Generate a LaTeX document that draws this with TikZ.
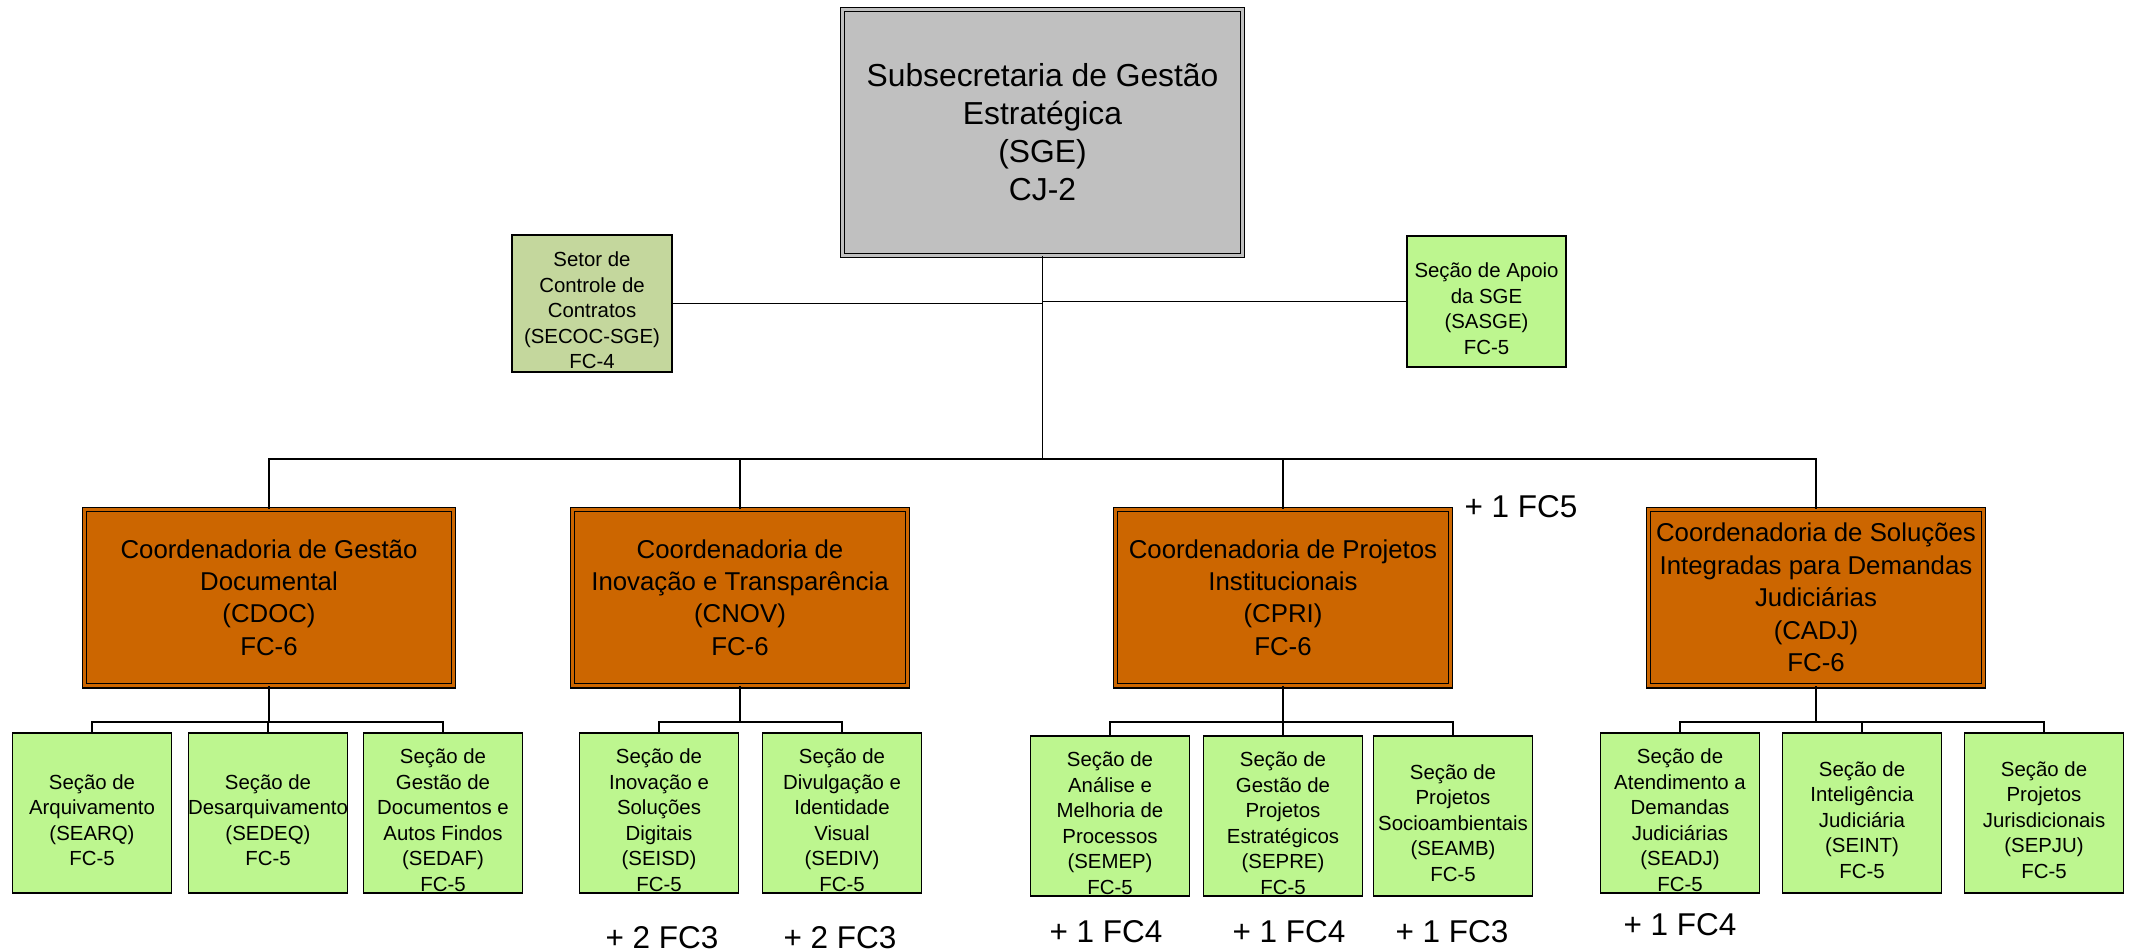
\documentclass[tikz,border=0pt]{standalone}
\usepackage{fontspec}
\setmainfont{Liberation Sans}
\definecolor{sgegray}{RGB}{192,192,192}
\definecolor{coordorange}{RGB}{204,102,0}
\definecolor{secgreen}{RGB}{189,246,143}
\definecolor{secocgreen}{RGB}{196,215,157}
\begin{document}
\begin{tikzpicture}[x=0.5pt,y=-0.5pt,line width=0.9pt,
    topbox/.style={draw,line width=0.6pt,double=sgegray,double distance=1.5pt,fill=sgegray,align=center,
      minimum width=199.9pt,minimum height=122.9pt,inner sep=0pt,font=\fontsize{15.9}{19}\selectfont},
    coordbox/.style={draw,line width=0.55pt,double=coordorange,double distance=1.5pt,fill=coordorange,align=center,
      minimum width=167.4pt,minimum height=88.4pt,inner sep=0pt,font=\fontsize{12.9}{16.2}\selectfont},
    secbox/.style={draw,line width=0.8pt,fill=secgreen,minimum width=79.5pt,minimum height=80pt,inner sep=0pt},
    sectext/.style={align=center,inner sep=0pt,yshift=-3.5pt,font=\fontsize{10.2}{12.75}\selectfont},
    fclabel/.style={anchor=base,font=\fontsize{15.75}{19}\selectfont}]
  \useasboundingbox (0,0) rectangle (2134,952);
  \node[topbox] (sge) at (1042.5,132.5) {Subsecretaria de Gestão\\Estratégica\\(SGE)\\CJ-2};
  \node[secbox,fill=secocgreen,minimum width=80pt,minimum height=68.5pt] (secoc) at (592,303.5) {};
  \node[sectext] (tsecoc) at (secoc) {Setor de\\Controle de\\Contratos\\(SECOC-SGE)\\FC-4};
  \node[secbox,minimum height=65.5pt] (sasge) at (1486.5,301.5) {};
  \node[sectext] (tsasge) at (sasge) {Seção de Apoio\\da SGE\\(SASGE)\\FC-5};
  \node[coordbox,minimum width=184.4pt] (cdoc) at (269,597.5) {Coordenadoria de Gestão\\Documental\\(CDOC)\\FC-6};
  \node[coordbox] (cnov) at (740,597.5) {Coordenadoria de\\Inovação e Transparência\\(CNOV)\\FC-6};
  \node[coordbox] (cpri) at (1283,597.5) {Coordenadoria de Projetos\\Institucionais\\(CPRI)\\FC-6};
  \node[coordbox] (cadj) at (1816,597.5) {Coordenadoria de Soluções\\Integradas para Demandas\\Judiciárias\\(CADJ)\\FC-6};
  \foreach \n/\px/\py/\t in {searq/92/813/{Seção de\\Arquivamento\\(SEARQ)\\FC-5},
      sedeq/268/813/{Seção de\\Desarquivamento\\(SEDEQ)\\FC-5},
      sedaf/443/813/{Seção de\\Gestão de\\Documentos e\\Autos Findos\\(SEDAF)\\FC-5},
      seisd/659/813/{Seção de\\Inovação e\\Soluções\\Digitais\\(SEISD)\\FC-5},
      sediv/842/813/{Seção de\\Divulgação e\\Identidade\\Visual\\(SEDIV)\\FC-5},
      semep/1110/816/{Seção de\\Análise e\\Melhoria de\\Processos\\(SEMEP)\\FC-5},
      sepre/1283/816/{Seção de\\Gestão de\\Projetos\\Estratégicos\\(SEPRE)\\FC-5},
      seamb/1453/816/{Seção de\\Projetos\\Socioambientais\\(SEAMB)\\FC-5},
      seadj/1680/813/{Seção de\\Atendimento a\\Demandas\\Judiciárias\\(SEADJ)\\FC-5},
      seint/1862/813/{Seção de\\Inteligência\\Judiciária\\(SEINT)\\FC-5},
      sepju/2044/813/{Seção de\\Projetos\\Jurisdicionais\\(SEPJU)\\FC-5}}
    {\node[secbox] (\n) at (\px,\py) {};
     \node[sectext] (t\n) at (\n) {\t};}
  \foreach \n/\px/\py/\t in {fcpri/1521/517/{+ 1 FC5},fseisd/662/948/{+ 2 FC3},fsediv/840/948/{+ 2 FC3},
      fsemep/1106/942/{+ 1 FC4},fsepre/1289/942/{+ 1 FC4},fseamb/1452/942/{+ 1 FC3},fseadj/1680/935/{+ 1 FC4}}
    \node[fclabel] (\n) at (\px,\py) {\t};
  \draw (sge.south) -- (sge.south |- 0,459);
  \draw (secoc.east) -- (secoc.east -| sge.south);
  \draw (sasge.west) -- (sasge.west -| sge.south);
  \foreach \c in {cdoc,cnov,cpri,cadj}
    \draw (sge.south |- 0,459) -| (\c.north);
  \foreach \p/\c in {cdoc/searq,cdoc/sedeq,cdoc/sedaf,cnov/seisd,cnov/sediv,cpri/semep,cpri/sepre,cpri/seamb,
      cadj/seadj,cadj/seint,cadj/sepju}
    \draw (\p.south) -- (\p.south |- 0,722) -| (\c.north);
\end{tikzpicture}
\end{document}
